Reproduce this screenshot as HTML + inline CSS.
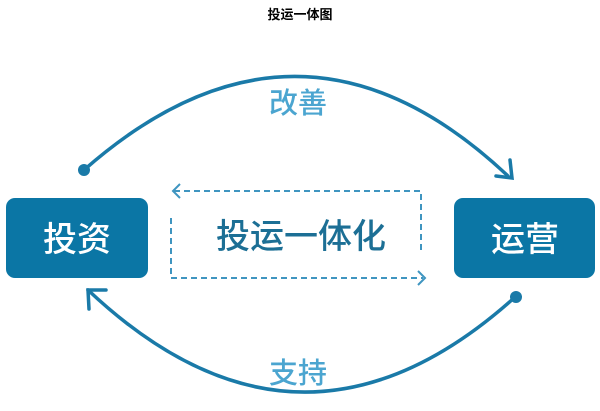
<!DOCTYPE html>
<html><head><meta charset="utf-8"><style>
body{margin:0;width:600px;height:411px;background:#fff;overflow:hidden;font-family:"Liberation Sans","Noto Sans CJK SC",sans-serif;}
.t{position:absolute;left:0;width:600px;top:4px;text-align:center;font-weight:bold;font-size:13px;color:#000}
</style></head><body>
<div class="t">投运一体图</div>
<svg width="600" height="411" style="position:absolute;left:0;top:0">
<g fill="none" stroke="#1a7aa8" stroke-width="3.5" stroke-linecap="round">
<path d="M84 170 Q300 -20 508 176"/>
<path d="M496 176 L512 178 L510 160"/>
<path d="M514 298 Q300 490 88 290"/>
<path d="M106 290 L88 290 L89 309"/>
</g>
<circle cx="84" cy="170" r="6" fill="#1a7aa8"/>
<circle cx="516" cy="297" r="6" fill="#1a7aa8"/>
<g fill="none" stroke="#3f95c0" stroke-width="2" stroke-dasharray="6,4">
<path d="M174 191 L421 191 L421 253"/>
<path d="M171 218 L171 278 L423 278"/>
</g>
<g fill="none" stroke="#3f95c0" stroke-width="2">
<path d="M180 184 L173 191 L180 198"/>
<path d="M418 271 L425 278 L418 285"/>
</g>
<rect x="6" y="198" width="142" height="80" rx="9" fill="#0b76a5"/>
<rect x="454" y="198" width="141" height="80" rx="9" fill="#0b76a5"/>
<g font-family="Liberation Sans,Noto Sans CJK SC,sans-serif" text-anchor="middle" font-weight="500">
<text x="77" y="251" font-size="34" fill="#fff">投资</text>
<text x="525" y="251" font-size="34" fill="#fff">运营</text>
<text x="301" y="248" font-size="34" fill="#1c6f95">投运一体化</text>
<text x="298" y="113" font-size="29" fill="#4ba5d0">改善</text>
<text x="298" y="383" font-size="29" fill="#4ba5d0">支持</text>
</g>
</svg>
</body></html>
